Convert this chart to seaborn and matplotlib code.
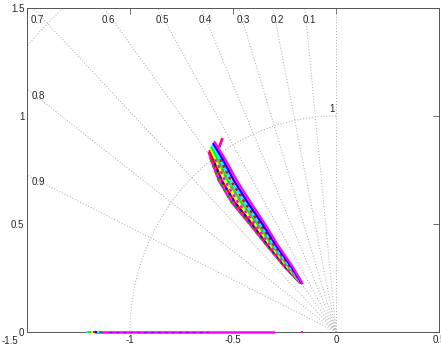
import numpy as np
import pandas as pd
import matplotlib
matplotlib.use("Agg")
import matplotlib.pyplot as plt
import seaborn as sns

# ---- data ----
zeta_values = [0.1, 0.2, 0.3, 0.4, 0.5, 0.6, 0.7, 0.8, 0.9]
wn_values = [1, 2]

# complex-pole locus band: one x/y list per branch (lower-left -> upper-right)
locus_x = [
    [-0.618, -0.608, -0.568, -0.506, -0.419, -0.335, -0.248, -0.174],
    [-0.614, -0.597, -0.554, -0.491, -0.406, -0.326, -0.241, -0.172],
    [-0.610, -0.585, -0.539, -0.475, -0.394, -0.317, -0.235, -0.170],
    [-0.606, -0.574, -0.525, -0.460, -0.381, -0.308, -0.228, -0.168],
    [-0.602, -0.562, -0.510, -0.444, -0.369, -0.299, -0.222, -0.166],
    [-0.597, -0.550, -0.495, -0.429, -0.357, -0.290, -0.215, -0.164],
    [-0.592, -0.538, -0.481, -0.414, -0.345, -0.281, -0.209, -0.161],
]
locus_y = [
    [0.835, 0.80, 0.70, 0.60, 0.50, 0.40, 0.30, 0.227],
    [0.843, 0.80, 0.70, 0.60, 0.50, 0.40, 0.30, 0.226],
    [0.851, 0.80, 0.70, 0.60, 0.50, 0.40, 0.30, 0.225],
    [0.859, 0.80, 0.70, 0.60, 0.50, 0.40, 0.30, 0.225],
    [0.867, 0.80, 0.70, 0.60, 0.50, 0.40, 0.30, 0.224],
    [0.875, 0.80, 0.70, 0.60, 0.50, 0.40, 0.30, 0.223],
    [0.883, 0.80, 0.70, 0.60, 0.50, 0.40, 0.30, 0.222],
]
locus_colors = ["#ff00ff", "#ff0000", "#ffff00", "#00ff00", "#00ffff", "#0000ff", "#ff00ff"]
# colours that speckle through the lower-left (mixed) part of the band
mix_colors = ["#00aa00", "#0000ff", "#ff00ff", "#888888", "#ff0000", None, None]

hook_x = [-0.568, -0.553]
hook_y = [0.856, 0.894]

# real-axis poles
real_seg_x = [-1.17, -0.30]
real_mark_x = [-1.205, -1.195, -1.185, -1.175, -1.165, -1.155, -1.145, -0.165]
real_mark_colors = ["#00ffff", "#00ff00", "#ffff00", "#ff0000", "#0000ff",
                    "#00ffff", "#00aa00", "#ff00ff"]

xticks = [-1.5, -1, -0.5, 0, 0.5]
xtick_labels = ["", "-1", "-0.5", "0", "0.5"]
yticks = [0, 0.5, 1, 1.5]
ytick_labels = ["0", "0.5", "1", "1.5"]

# ---- figure ----
sns.set_style("white")
plt.rcParams["font.family"] = ["Liberation Sans", "DejaVu Sans"]
plt.rcParams["font.size"] = 7

fig = plt.figure(figsize=(4.41, 3.44), dpi=100)
ax = fig.add_axes([27 / 441, 12 / 344, 412 / 441, 324 / 344])
ax.set_xlim(-1.5, 0.5)
ax.set_ylim(0, 1.5)

grid_kw = dict(color="#a8a8a8", linestyle=(0, (1, 2)), linewidth=0.7, zorder=1)

# damping rays
R = 3.0
for z in [0.0] + zeta_values:
    s = np.sqrt(1 - z ** 2)
    ax.plot([0, -z * R], [0, s * R], **grid_kw)
# natural-frequency arcs
th = np.linspace(np.pi / 2, np.pi, 200)
for w in wn_values:
    ax.plot(w * np.cos(th), w * np.sin(th), **grid_kw)

# zeta labels
for z in zeta_values:
    s = np.sqrt(1 - z ** 2)
    xt = -1.5 * z / s
    if xt >= -1.5:
        ax.text(xt - 0.012, 1.467, f"{z:g}", ha="left", va="top", fontsize=7)
    else:
        yt = 1.5 * s / z
        ax.text(-1.476, yt - 0.01, f"{z:g}", ha="left", va="top", fontsize=7)
ax.text(-0.008, 1.01, "1", ha="right", va="bottom", fontsize=7)

# locus band
rows = []
for i, (xs, ys) in enumerate(zip(locus_x, locus_y)):
    for j, (x, y) in enumerate(zip(xs, ys)):
        rows.append(dict(branch=i, order=j, x=x, y=y))
df = pd.DataFrame(rows)
for i in range(len(locus_x)):
    sub = df[df.branch == i]
    sns.lineplot(data=sub, x="x", y="y", sort=False, estimator=None,
                 color=locus_colors[i], linewidth=1.7, ax=ax, zorder=3 + i * 0.01,
                 solid_capstyle="butt")
    if mix_colors[i] is not None:
        sns.lineplot(data=sub.iloc[1:], x="x", y="y", sort=False, estimator=None,
                     color=mix_colors[i], linewidth=1.7, ax=ax, zorder=3 + i * 0.01 + 0.005,
                     linestyle=(i % 2, (1.2, 1.6)))
sns.lineplot(x=hook_x, y=hook_y, sort=False, estimator=None, color="#ff0000",
             linewidth=1.6, ax=ax, zorder=3)
sns.lineplot(x=[hook_x[0] + 0.004, hook_x[1] + 0.004], y=hook_y, sort=False,
             estimator=None, color="#ff00ff", linewidth=1.2, ax=ax, zorder=3)

# real axis poles
sns.lineplot(x=real_seg_x, y=[0, 0], sort=False, estimator=None, color="#ff00ff",
             linewidth=1.8, ax=ax, zorder=4)
ax.lines[-1].set_clip_on(False)
sns.lineplot(x=[-1.10, -0.62], y=[0, 0], sort=False, estimator=None, color="#8000ff",
             linewidth=1.0, linestyle=(0, (2, 3)), ax=ax, zorder=4.1)
ax.lines[-1].set_clip_on(False)
sns.scatterplot(x=real_mark_x, y=[0] * len(real_mark_x), hue=list(range(len(real_mark_x))),
                palette=real_mark_colors, marker="s", s=4, linewidth=0,
                legend=False, ax=ax, zorder=5)
for c in ax.collections:
    c.set_clip_on(False)

ax.set_xticks(xticks)
ax.set_xticklabels(xtick_labels)
ax.set_yticks(yticks)
ax.set_yticklabels(ytick_labels)
ax.text(-0.061, -0.012, "-1.5", transform=ax.transAxes, ha="left", va="top", fontsize=7)
ax.set_xlabel("")
ax.set_ylabel("")
ax.tick_params(direction="in", length=4, width=0.6, color="#555555", labelsize=7,
               top=True, right=True, pad=2)
for sp in ax.spines.values():
    sp.set_color("#555555")
    sp.set_linewidth(0.7)

fig.savefig("out.png", dpi=100)
